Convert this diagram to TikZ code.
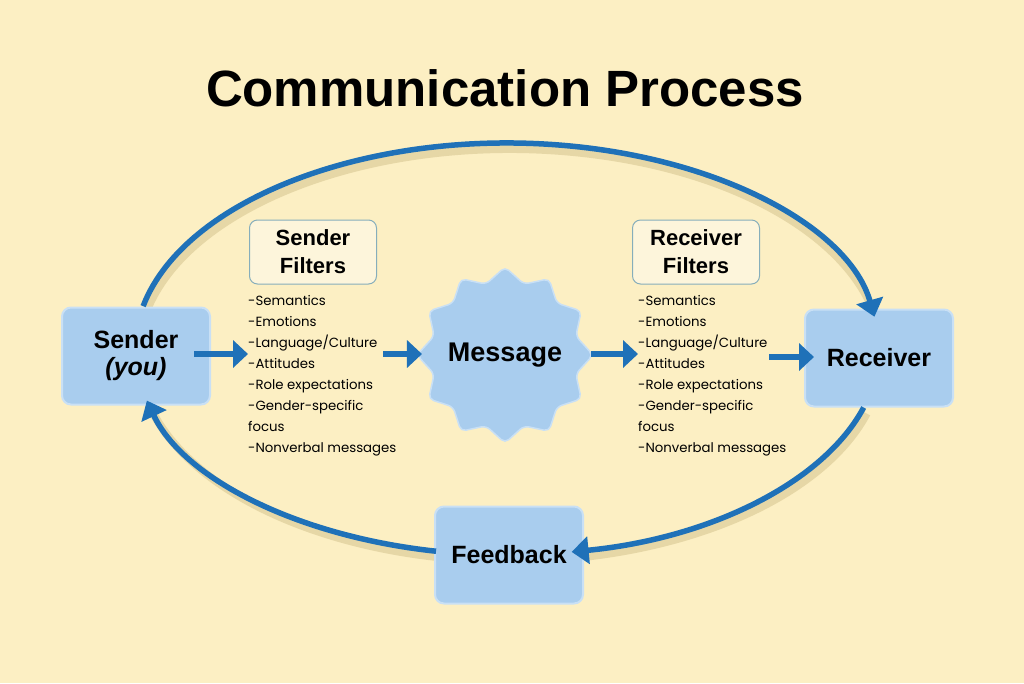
\documentclass[tikz,border=0pt]{standalone}
\usepackage{fontspec}
\setmainfont{Liberation Sans}
\newfontfamily\listfont{Poppins}
\usepackage{tikz}
\usetikzlibrary{shapes,arrows.meta,positioning,calc}
\definecolor{paper}{HTML}{FCEFC3}
\definecolor{boxblue}{HTML}{A9CDEE}
\definecolor{boxedge}{HTML}{C9E0F5}
\definecolor{flowblue}{HTML}{1F71B8}
\definecolor{filteredge}{HTML}{86AEBB}
\definecolor{loopshadow}{HTML}{E6D7A6}

\begin{document}
\begin{tikzpicture}[x=1pt,y=-1pt,
    party/.style={draw=boxedge,line width=2pt,fill=boxblue,rounded corners=9pt,
        minimum width=148pt,minimum height=97pt,align=center,
        font=\fontsize{25}{27}\selectfont\bfseries},
    filterbox/.style={draw=filteredge,line width=1pt,fill=paper!60!white,rounded corners=8pt,
        minimum width=127pt,minimum height=64pt,align=center,
        font=\fontsize{22}{28}\selectfont\bfseries},
    filterlist/.style={anchor=north west,align=left,inner sep=0pt,
        font=\listfont\fontsize{13.3}{21}\selectfont},
    flow/.style={draw=flowblue,line width=5.5pt,-{Triangle[width=27pt,length=15pt]}},
    loop/.style={draw=flowblue,line width=5.5pt,-{Triangle[width=27pt,length=17pt]}},
    loopshade/.style={draw=loopshadow,line width=8pt}
]
    % background
    \fill[paper] (0,0) rectangle (1024,683);
    \useasboundingbox (0,0) rectangle (1024,683);

    % title
    \node (title) at (505,88) {\fontsize{51}{56}\selectfont\bfseries Communication Process};

    % feedback loop (ellipse centre and its break points)
    \coordinate (ctr) at (507,349);
    \coordinate (upS) at ([shift={(192:372 and 206)}]ctr);
    \coordinate (downR) at ([shift={(16.5:372 and 206)}]ctr);
    \coordinate (leftF) at ([shift={(101:372 and 206)}]ctr);

    % soft shadow of the loop
    \draw[loopshade] ([shift={(3,6)}]upS)
        arc[start angle=192,end angle=350,x radius=372,y radius=206];
    \draw[loopshade] ([shift={(3,6)}]downR)
        arc[start angle=16.5,end angle=79,x radius=372,y radius=206];
    \draw[loopshade] ([shift={(3,6)}]leftF)
        arc[start angle=101,end angle=166,x radius=372,y radius=206];

    % boxes
    \node[party] (sender) at (136,356) {Sender\\\itshape(you)};
    \node[party] (receiver) at (879,358) {Receiver};
    \node[party] (feedback) at (509,555) {Feedback};
    \node[star,star points=12,star point ratio=1.2,minimum size=176pt,rounded corners=5pt,
        fill=boxblue,draw=boxedge,line width=1.5pt,inner sep=0pt,
        label={[font=\fontsize{27}{30}\selectfont\bfseries]center:Message}] (message) at (505,355) {};

    % filters
    \node[filterbox] (sfilter) at (313,252) {Sender\\Filters};
    \node[filterbox] (rfilter) at (696,252) {Receiver\\Filters};
    \node[filterlist] (slist) at (248,295) {-Semantics\\-Emotions\\-Language/Culture\\-Attitudes\\
        -Role expectations\\-Gender-specific\\focus\\-Nonverbal messages};
    \node[filterlist] (rlist) at (638,295) {-Semantics\\-Emotions\\-Language/Culture\\-Attitudes\\
        -Role expectations\\-Gender-specific\\focus\\-Nonverbal messages};

    % straight flow
    \draw[flow] (sender.east) ++(-17,-2) coordinate (a1) -- (a1 -| slist.west);
    \draw[flow] (383,354) coordinate (a2) -- ([xshift=6pt]a2 -| message.west);
    \draw[flow] ([xshift=-3pt]message.east |- 0,354) coordinate (a3) -- (a3 -| rlist.west);
    \draw[flow] (769,357) coordinate (a4) -- ([xshift=10pt]a4 -| receiver.west);

    % loop arcs
    \draw[loop] (upS) arc[start angle=192,end angle=351,x radius=372,y radius=206];
    \draw[loop] (downR) arc[start angle=16.5,end angle=80,x radius=372,y radius=206];
    \draw[loop] (leftF) arc[start angle=101,end angle=165.5,x radius=372,y radius=206];
\end{tikzpicture}
\end{document}
